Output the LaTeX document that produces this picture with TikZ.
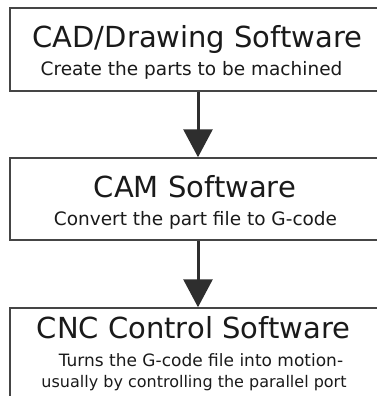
\documentclass[tikz,border=0pt]{standalone}
\usepackage{fontspec}
\setmainfont{DejaVu Sans}
\usetikzlibrary{arrows.meta}
\definecolor{boxline}{HTML}{454545}
\definecolor{ink}{HTML}{1A1A1A}
\definecolor{arrowink}{HTML}{2E2E2E}
\tikzset{
  stagebox/.style={draw=boxline, line width=1.5pt, fill=white, minimum width=376pt, inner sep=0pt},
  titletext/.style={anchor=base, text=ink, font=\fontsize{29}{29}\selectfont, inner sep=0pt},
  subtext/.style={anchor=base, text=ink, font=\fontsize{18.5}{18.5}\selectfont, inner sep=0pt},
  notetext/.style={anchor=base, text=ink, inner sep=0pt},
  flowarrow/.style={draw=arrowink, line width=3pt, -{Triangle[width=29pt,length=28pt]}}
}
\begin{document}
\begin{tikzpicture}[x=1pt,y=-1pt]
\useasboundingbox (0,0) rectangle (377,396);
\clip (0,0) rectangle (377,396);
\fill[white] (0,0) rectangle (377,396);
\node[stagebox, minimum height=83pt] (box1) at (198,49.5) {};
\node[stagebox, minimum height=82pt] (box2) at (198,199) {};
\node[stagebox, minimum height=110pt] (box3) at (198,363) {};
\node[titletext] (t1) at (197.5,48) {CAD/Drawing Software};
\node[subtext] (s1) at (191.5,75) {Create the parts to be machined};
\node[titletext] (t2) at (195,197) {CAM Software};
\node[subtext] (s2) at (195.5,225) {Convert the part file to G-code};
\node[titletext] (t3) at (193.5,338) {CNC Control Software};
\node[notetext, font=\fontsize{17}{17}\selectfont] (s3a) at (201,366) {Turns the G-code file into motion-};
\node[notetext, font=\fontsize{16}{16}\selectfont] (s3b) at (194,387) {usually by controlling the parallel port};
\draw[flowarrow] (box1.south) -- (box2.north);
\draw[flowarrow] (box2.south) -- (box3.north);
\end{tikzpicture}
\end{document}
